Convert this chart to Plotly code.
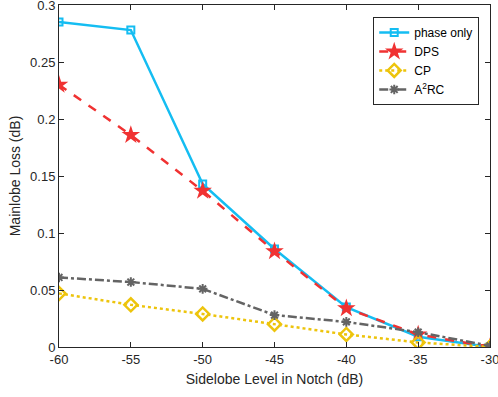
import plotly.graph_objects as go

x_vals = [-60, -55, -50, -45, -40, -35, -30]
phase_only = [0.285, 0.278, 0.143, 0.086, 0.035, 0.009, 0.0]
dps = [0.230, 0.186, 0.137, 0.084, 0.034, 0.011, 0.0]
cp = [0.047, 0.037, 0.029, 0.020, 0.011, 0.004, 0.0]
a2rc = [0.061, 0.057, 0.051, 0.028, 0.022, 0.013, 0.001]

x_ticks = [-60, -55, -50, -45, -40, -35, -30]
y_ticks = [0, 0.05, 0.1, 0.15, 0.2, 0.25, 0.3]
y_labels = ["0", "0.05", "0.1", "0.15", "0.2", "0.25", "0.3"]

FONT = "Liberation Sans, Arial"
fig = go.Figure()
fig.add_trace(go.Scatter(x=x_vals, y=phase_only, name="phase only", mode="lines+markers",
                         line=dict(color="#14BDF2", width=2.5, dash="solid"),
                         marker=dict(symbol="square-open", size=7, color="#14BDF2", line=dict(width=2))))
fig.add_trace(go.Scatter(x=x_vals, y=dps, name="DPS", mode="lines+markers",
                         line=dict(color="#F03232", width=2.5, dash="dash"),
                         marker=dict(symbol="star", size=14, color="#F03232", line=dict(width=0))))
fig.add_trace(go.Scatter(x=x_vals, y=cp, name="CP", mode="lines+markers",
                         line=dict(color="#EDC40C", width=2.5, dash="dot"),
                         marker=dict(symbol="diamond-open", size=10, color="#EDC40C", line=dict(width=2.5))))
fig.add_trace(go.Scatter(x=x_vals, y=a2rc, name="A<sup>2</sup>RC", mode="lines+markers",
                         line=dict(color="#646464", width=2.5, dash="dashdot"),
                         marker=dict(symbol="asterisk-open", size=8, color="#646464", line=dict(width=2, color="#646464"))))

axis_common = dict(showline=True, linecolor="#262626", linewidth=1, mirror="ticks",
                   ticks="inside", ticklen=5, tickcolor="#262626", showgrid=False, zeroline=False,
                   ticklabeloverflow="allow", automargin=False,
                   tickfont=dict(family=FONT, size=13, color="#262626"))

fig.update_xaxes(range=[-60, -30], tickvals=x_ticks, ticktext=[str(v) for v in x_ticks],
                 title=dict(text="Sidelobe Level in Notch (dB)", font=dict(family=FONT, size=14, color="#262626"), standoff=8),
                 **axis_common)
fig.update_yaxes(range=[0, 0.3], tickvals=y_ticks, ticktext=y_labels,
                 title=dict(text="Mainlobe Loss (dB)", font=dict(family=FONT, size=14, color="#262626"), standoff=6),
                 **axis_common)

fig.update_layout(width=498, height=397, margin=dict(l=59, r=8, t=5, b=50),
                  plot_bgcolor="white", paper_bgcolor="white",
                  legend=dict(x=0.975, y=0.965, xanchor="right", yanchor="top",
                              bordercolor="#262626", borderwidth=1, bgcolor="white",
                              font=dict(family=FONT, size=12, color="#000000"),
                              tracegroupgap=0, itemwidth=30))

fig.write_html("out.html")
